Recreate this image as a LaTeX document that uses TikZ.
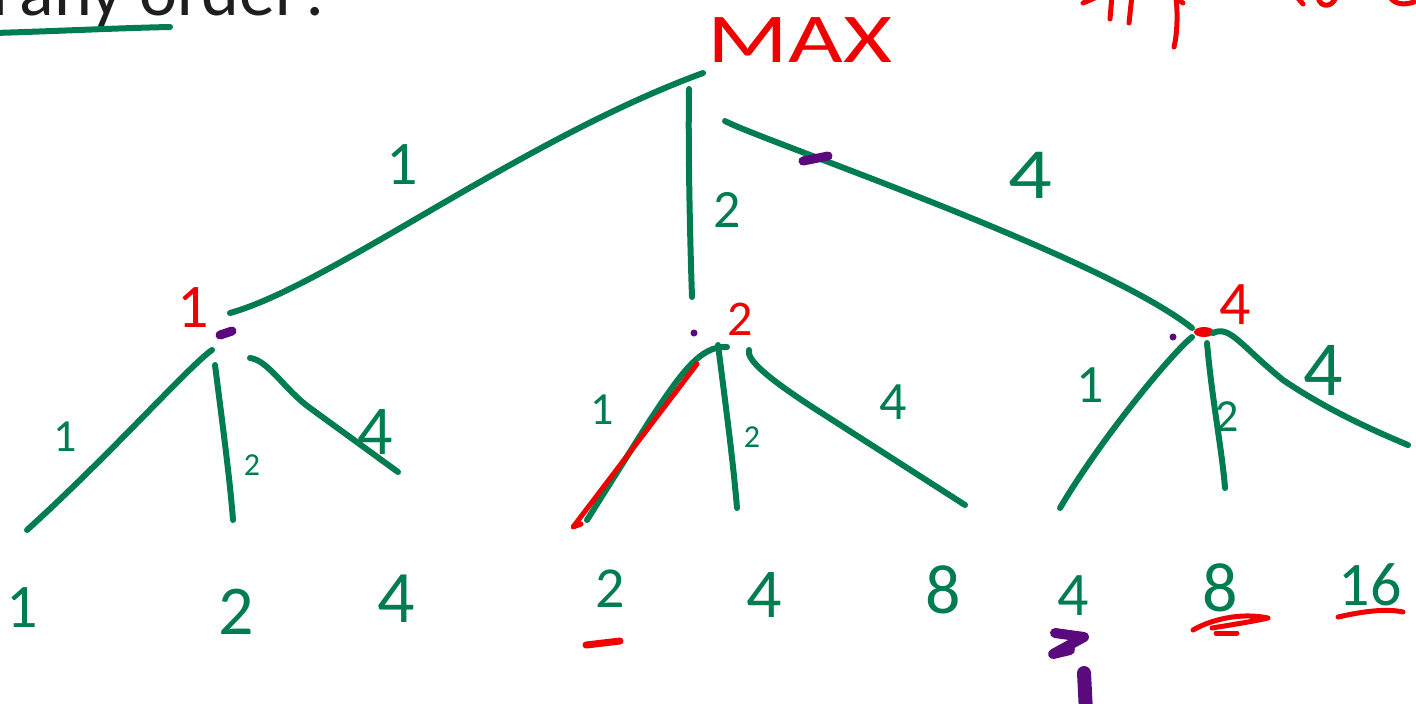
\documentclass[tikz,border=0pt]{standalone}
\usepackage{fontspec}
\setmainfont{Carlito}
\definecolor{treegreen}{RGB}{0,125,80}
\definecolor{inkred}{RGB}{240,0,0}
\definecolor{inkpurple}{RGB}{90,10,125}
\definecolor{textgray}{RGB}{30,30,30}
\begin{document}
\begin{tikzpicture}[x=0.5pt,y=-0.5pt,
  edge/.style={draw=treegreen, line width=3pt, line cap=round, line join=round},
  redstroke/.style={draw=inkred, line width=2.5pt, line cap=round, line join=round},
  purplemark/.style={draw=inkpurple, line width=4.5pt, line cap=round, line join=round},
  glbl/.style={text=treegreen, inner sep=0pt, font=\fontsize{#1}{#1}\selectfont},
  rlbl/.style={text=inkred, inner sep=0pt, font=\fontsize{#1}{#1}\selectfont}]
\useasboundingbox (0,0) rectangle (1416,703);
\clip (0,0) rectangle (1416,703);

% header text (cut off at the top edge, as in the reference) and its underline
\node[anchor=base west, inner sep=0pt, text=textgray, font=\fontsize{36}{36}\selectfont] (question) at (-8,15) {r\kern-7pt\ any order?};
\coordinate (ulA) at (-5,33);
\coordinate (ulB) at (170,27);
\draw[edge] (ulA) .. controls (60,31) and (120,28) .. (ulB);

% red scribbles top right (cut off)
\draw[redstroke] (1083,3) -- (1097,-3);
\draw[redstroke] (1112,-5) -- (1110,19);
\draw[redstroke] (1132,-5) -- (1129,23);
\draw[redstroke] (1183,3) -- (1176,-2) .. controls (1178,15) and (1177,35) .. (1174,47);
\draw[redstroke] (1297,-3) -- (1303,4);
\draw[redstroke] (1318,-3) .. controls (1320,8) and (1332,8) .. (1336,-3);
\draw[redstroke] (1390,-3) .. controls (1395,5) and (1405,5) .. (1414,2);

% root
\node[rlbl=35, xscale=1.35] (max) at (800,40) {MAX};
\coordinate (rA) at (703,73);
\coordinate (rB) at (689,89);
\coordinate (rC) at (725,121);

% level-1 points
\coordinate (n1A) at (230,313);
\coordinate (n2A) at (692,297);
\coordinate (n3A) at (1192,328);

% root edges
\draw[edge] (rA) .. controls (520,140) and (330,285) .. (n1A);
\draw[edge] (rB) .. controls (688,150) and (690,240) .. (n2A);
\draw[edge] (rC) .. controls (760,140) and (1100,255) .. (n3A);
\draw[purplemark] (803,161) -- (828,156);

\node[glbl=31] (w1) at (402,165) {1};
\node[glbl=27] (w2) at (727,210) {2};
\node[glbl=36, xscale=1.2] (w3) at (1030,175) {4};

% level-1 values
\node[rlbl=31] (v1) at (193,308) {1};
\node[rlbl=25] (v2) at (740,319) {2};
\node[rlbl=31] (v3) at (1235,305) {4};
\draw[purplemark] (220,335) -- (232,331);
\fill[inkpurple] (694,333) circle[radius=3.5];
\fill[inkpurple] (1173,337) circle[radius=3.5];
\fill[inkred] (1204,332) ellipse[x radius=10, y radius=5];

% leaves
\node[glbl=31] (l1) at (22,608) {1};
\node[glbl=35] (l2) at (236,612) {2};
\node[glbl=37] (l3) at (396,599) {4};
\node[glbl=29] (l4) at (610,589) {2};
\node[glbl=35] (l5) at (764,595) {4};
\node[glbl=35] (l6) at (943,590) {8};
\node[glbl=31] (l7) at (1073,596) {4};
\node[glbl=35] (l8) at (1220,588) {8};
\node[glbl=31] (l9) at (1370,585) {16};

% left subtree
\coordinate (n1L) at (212,350);
\coordinate (n1M) at (215,365);
\coordinate (n1R) at (250,358);
\coordinate (e1) at (27,530);
\coordinate (e2) at (233,520);
\coordinate (e3) at (398,472);
\draw[edge] (n1L) .. controls (190,365) and (110,455) .. (e1);
\draw[edge] (n1M) .. controls (222,420) and (230,480) .. (e2);
\draw[edge] (n1R) .. controls (268,360) and (285,390) .. (310,408) -- (e3);
\node[glbl=23] (s11) at (65,437) {1};
\node[glbl=16] (s12) at (252,465) {2};
\node[glbl=35] (s13) at (375,432) {4};

% middle subtree
\coordinate (n2L) at (727,347);
\coordinate (n2M) at (718,345);
\coordinate (n2R) at (749,350);
\coordinate (e4) at (587,520);
\coordinate (e5) at (737,508);
\coordinate (e6) at (965,505);
\draw[edge] (n2L) .. controls (700,345) and (680,375) .. (650,420) -- (e4);
\draw[edge] (n2M) .. controls (725,400) and (733,460) .. (e5);
\draw[edge] (n2R) .. controls (746,360) and (770,380) .. (820,412) -- (e6);
\coordinate (redA) at (697,364);
\coordinate (redB) at (573,527);
\draw[redstroke] (redA) -- (redB) -- ++(8,-3);
\node[glbl=23] (s21) at (602,410) {1};
\node[glbl=16] (s22) at (752,437) {2};
\node[glbl=27] (s23) at (893,402) {4};

% right subtree
\coordinate (n3L) at (1192,337);
\coordinate (n3M) at (1207,343);
\coordinate (n3R) at (1213,333);
\coordinate (e7) at (1060,508);
\coordinate (e8) at (1225,488);
\coordinate (e9) at (1408,445);
\draw[edge] (n3L) .. controls (1170,355) and (1100,440) .. (e7);
\draw[edge] (n3M) .. controls (1212,400) and (1222,450) .. (e8);
\draw[edge] (n3R) .. controls (1230,325) and (1240,345) .. (1283,380) .. controls (1320,405) and (1360,425) .. (e9);
\node[glbl=27] (s31) at (1090,385) {1};
\node[glbl=23] (s32) at (1227,417) {2};
\node[glbl=39] (s33) at (1323,370) {4};

% annotations under leaves
\draw[redstroke, line width=3.5pt] (586,645) -- (620,641);
\draw[redstroke] (1193,630) .. controls (1210,620) and (1240,612) .. (1268,618) .. controls (1250,622) and (1230,625) .. (1212,628);
\draw[redstroke] (1216,633) -- (1237,633);
\draw[redstroke] (1338,617) .. controls (1360,612) and (1385,608) .. (1403,612);
\draw[purplemark, line width=5pt] (1055,633) -- (1084,637) -- (1053,654) -- (1070,650);
\draw[purplemark, line width=7pt] (1084,673) -- (1086,712);
\end{tikzpicture}
\end{document}
